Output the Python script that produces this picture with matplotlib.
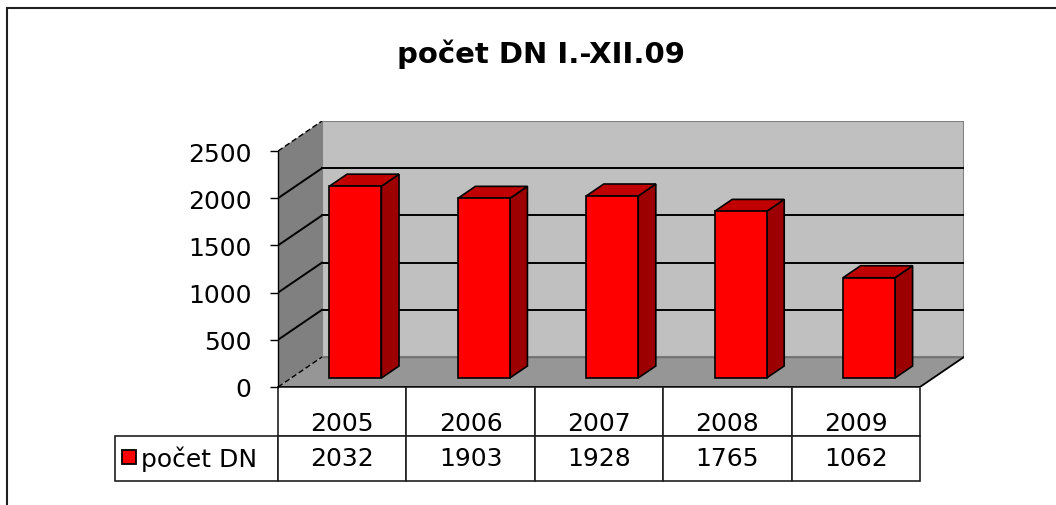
import matplotlib
matplotlib.use('Agg')
import matplotlib.pyplot as plt
from matplotlib.patches import Polygon, Rectangle, Patch
from matplotlib.table import Table

title = 'počet DN I.-XII.09'
series_name = 'počet DN'
years = ['2005', '2006', '2007', '2008', '2009']
counts = [2032, 1903, 1928, 1765, 1062]
y_ticks = [0, 500, 1000, 1500, 2000, 2500]

# oblique projection of the depth axis (in category / value units)
DX = 0.343
DY = 318
BAR_W = 0.405
BAR_F0, BAR_F1 = 0.3, 0.7   # bar occupies this slice of the depth
YMAX = y_ticks[-1]
n = len(years)
x0, x1 = -0.5, n - 0.5
FS = 18

fig = plt.figure(figsize=(10.56, 5.06), dpi=100)
W, H = 1056, 506

ax = fig.add_axes([278 / W, (H - 388) / H, 686 / W, 266 / H])
ax.set_xlim(x0, x1 + DX)
ax.set_ylim(0, YMAX + DY)
ax.patch.set_visible(False)


def poly(pts, **kw):
    ax.add_patch(Polygon(pts, closed=True, **kw))


# walls and floor
poly([(x0 + DX, DY), (x1 + DX, DY), (x1 + DX, YMAX + DY), (x0 + DX, YMAX + DY)],
     facecolor='#c0c0c0', edgecolor='#808080', lw=1.5, zorder=1)
poly([(x0, 0), (x0 + DX, DY), (x0 + DX, YMAX + DY), (x0, YMAX)],
     facecolor='#808080', edgecolor='none', zorder=1)
poly([(x0, 0), (x1, 0), (x1 + DX, DY), (x0 + DX, DY)],
     facecolor='#969696', edgecolor='none', zorder=1)
ax.plot([x0 + DX, x1 + DX], [DY, DY], color='#707070', lw=1, zorder=2)
ax.plot([x1, x1 + DX], [0, DY], color='black', lw=1.3, zorder=2)
ax.plot([x0, x1], [0, 0], color='black', lw=1.3, zorder=2)

# gridlines on back and side wall
for v in y_ticks[1:-1]:
    ax.plot([x0 + DX, x1 + DX], [v + DY, v + DY], color='black', lw=1.4, zorder=2)
    ax.plot([x0, x0 + DX], [v, v + DY], color='black', lw=1.4, zorder=2)
for v in (0, YMAX):
    ax.plot([x0, x0 + DX], [v, v + DY], color='black', lw=1.0, ls=(0, (4, 2)), zorder=2)

# 3d columns
bdx = (BAR_F1 - BAR_F0) * DX
bdy = (BAR_F1 - BAR_F0) * DY
for i, v in enumerate(counts):
    l = i - BAR_W / 2 + BAR_F0 * DX
    r = i + BAR_W / 2 + BAR_F0 * DX
    b = BAR_F0 * DY
    t = b + v
    poly([(r, b), (r + bdx, b + bdy), (r + bdx, t + bdy), (r, t)],
         facecolor='#9c0000', edgecolor='black', lw=1.2, zorder=3)
    poly([(l, t), (r, t), (r + bdx, t + bdy), (l + bdx, t + bdy)],
         facecolor='#c00000', edgecolor='black', lw=1.2, zorder=3)
    ax.add_patch(Rectangle((l, b), r - l, v, facecolor='#ff0000',
                           edgecolor='black', lw=1.2, zorder=4))

# value axis on the front edge
for s in ('top', 'right', 'bottom'):
    ax.spines[s].set_visible(False)
ax.spines['left'].set_bounds(0, YMAX)
ax.spines['left'].set_linewidth(1.0)
ax.spines['left'].set_zorder(5)
ax.set_xticks([])
ax.set_yticks(y_ticks)
ax.tick_params(axis='y', length=6, width=1, pad=13, labelsize=FS)

# data table under the plot: year row, then the legend cell + values row
# (bbox covers the year/value grid; the legend column hangs off to the left)
cat_w = 1 / (n + DX)
lab_w = 163 / 686
tab = Table(ax, bbox=[0, -94 / 266, n * cat_w, 94 / 266])
for j, (yr, c) in enumerate(zip(years, counts)):
    hc = tab.add_cell(0, j, cat_w, 49, text=yr, loc='center')
    hc.get_text().set_va('top')
    tab.add_cell(1, j, cat_w, 45, text=str(c), loc='center')
tab.add_cell(1, -1, lab_w, 45, text='')
tab.auto_set_font_size(False)
tab.set_fontsize(FS)
for cell in tab.get_celld().values():
    cell.set_linewidth(1.2)
    cell.set_edgecolor('#202020')
ax.add_table(tab)

ax.legend(handles=[Patch(facecolor='#ff0000', edgecolor='black', lw=1.3)],
          labels=[series_name], loc='center left',
          bbox_to_anchor=(122 / W, 1 - 459 / H), bbox_transform=fig.transFigure,
          frameon=False, fontsize=FS, handlelength=0.55, handleheight=0.5,
          handletextpad=0.2, borderpad=0, borderaxespad=0)

fig.text(541 / W, 1 - 63 / H, title, ha='center', va='baseline',
         fontsize=21, fontweight='bold')

# chart area border (runs off the right and bottom edges)
fig.add_artist(Rectangle((7 / W, -0.1), 1.2, 1.1 - 9 / H, transform=fig.transFigure,
                         fill=False, edgecolor='#202020', lw=1.5))

fig.savefig('out.png', dpi=100)
